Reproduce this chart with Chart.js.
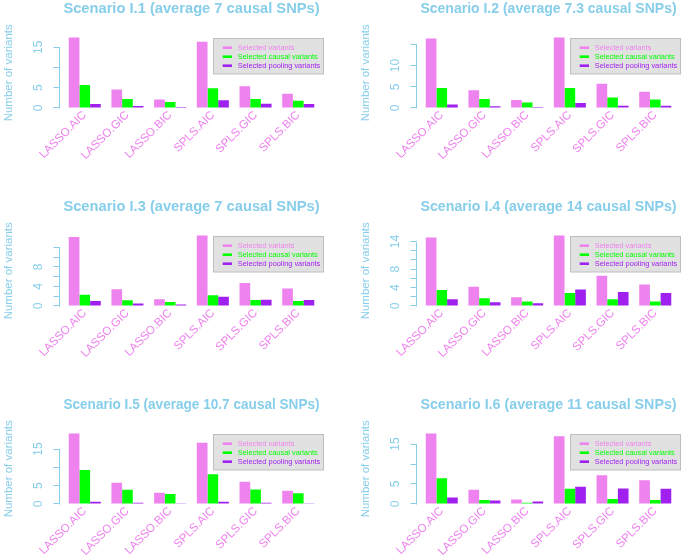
<!DOCTYPE html>
<html><head><meta charset="utf-8">
<script src="https://cdn.jsdelivr.net/npm/chart.js@4.4.1/dist/chart.umd.min.js"></script>
<style>
html,body{margin:0;padding:0;background:#fff;}
#wrap{position:relative;width:689px;height:555px;overflow:hidden;background:#fff;}
.p{position:absolute;width:357px;height:198px;}
</style></head><body><div id="wrap"></div>
<script>
// ---------- data ----------
const categories = ['LASSO.AIC','LASSO.GIC','LASSO.BIC','SPLS.AIC','SPLS.GIC','SPLS.BIC'];
const seriesNames = ['Selected variants','Selected causal variants','Selected pooling variants'];
const panelTitles = [
  'Scenario I.1 (average 7 causal SNPs)',
  'Scenario I.2 (average 7.3 causal SNPs)',
  'Scenario I.3 (average 7 causal SNPs)',
  'Scenario I.4 (average 14 causal SNPs)',
  'Scenario I.5 (average 10.7 causal SNPs)',
  'Scenario I.6 (average 11 causal SNPs)'
];
const yAxisTitle = 'Number of variants';

const selectedI1 = [17.4, 4.6, 2.1, 16.4, 5.4, 3.5];
const causalI1   = [5.7, 2.2, 1.5, 4.9, 2.2, 1.8];
const poolingI1  = [1.0, 0.5, 0.25, 1.9, 1.05, 1.0];

const selectedI2 = [16.4, 4.2, 1.9, 16.6, 5.7, 3.85];
const causalI2   = [4.7, 2.1, 1.3, 4.7, 2.5, 2.0];
const poolingI2  = [0.8, 0.4, 0.25, 1.2, 0.55, 0.55];

const selectedI3 = [14.1, 3.4, 1.4, 14.4, 4.7, 3.6];
const causalI3   = [2.3, 1.15, 0.8, 2.2, 1.2, 1.0];
const poolingI3  = [1.0, 0.5, 0.3, 1.9, 1.3, 1.2];

const selectedI4 = [14.9, 4.2, 1.9, 15.3, 6.55, 4.65];
const causalI4   = [3.5, 1.7, 1.0, 2.8, 1.45, 1.0];
const poolingI4  = [1.45, 0.8, 0.6, 3.6, 3.05, 2.8];

const selectedI5 = [19.2, 5.8, 3.05, 16.7, 6.05, 3.6];
const causalI5   = [9.3, 3.9, 2.7, 8.1, 3.95, 2.9];
const poolingI5  = [0.6, 0.35, 0.2, 0.6, 0.35, 0.2];

const selectedI6 = [17.6, 3.55, 1.15, 16.95, 7.2, 5.95];
const causalI6   = [6.45, 1.0, 0.3, 3.8, 1.25, 1.0];
const poolingI6  = [1.65, 0.9, 0.6, 4.3, 3.9, 3.8];

const yTicksA = [0, 5, 10, 15];
const yTicksB = [0, 2, 4, 6, 8, 10, 12];
const yTicksC = [0, 2, 4, 6, 8, 10, 12, 14];
const yLabelsI1 = ['0', '5', '', '15'];
const yLabelsI2 = ['0', '5', '10', ''];
const yLabelsI3 = ['0', '', '4', '', '8', '', ''];
const yLabelsI4 = ['0', '', '4', '', '8', '', '', '14'];
const yLabelsI5 = ['0', '5', '', '15'];
const yLabelsI6 = ['0', '5', '', '15'];

// ---------- style ----------
const FAM = '"Liberation Sans", Arial, Helvetica, sans-serif';
const SKY = '#87CEEB';
const COLORS = ['#EE82EE', '#00FF00', '#A020F0'];
const PW = 357, PH = 198;

const measureCtx = document.createElement('canvas').getContext('2d');
function widest(labels, size) {
  measureCtx.font = size + 'px ' + FAM;
  let w = 0; labels.forEach(l => { w = Math.max(w, measureCtx.measureText(l).width); });
  return w;
}

const rPlugin = {
  id: 'rStyle',
  afterLayout(chart) {
    const s = chart.scales.y;
    const d = s.right - 59.5;
    s.left -= d; s.right -= d;
    s._labelItemsCache = null; s._gridLineItems = null;
  },
  afterDraw(chart) {
    const ctx = chart.ctx;
    const s = chart.scales.y;
    const t = chart.options.plugins.rStyle.ticks;
    ctx.save();
    ctx.strokeStyle = SKY; ctx.lineWidth = 1;
    ctx.beginPath();
    ctx.moveTo(s.right, Math.round(s.getPixelForValue(t[0])) + 0.5);
    ctx.lineTo(s.right, Math.round(s.getPixelForValue(t[t.length - 1])) + 0.5);
    ctx.stroke();
    const bx = 213.5, by = 38.5, bw = 110, bh = 35.5;
    ctx.fillStyle = '#E1E1E1';
    ctx.fillRect(bx, by, bw, bh);
    ctx.strokeStyle = '#BEBEBE'; ctx.lineWidth = 1;
    ctx.strokeRect(bx, by, bw, bh);
    const rows = [47.7, 56.7, 65.7];
    ctx.font = '7.4px ' + FAM;
    ctx.textBaseline = 'middle'; ctx.textAlign = 'left';
    chart.data.datasets.forEach((ds, i) => {
      ctx.strokeStyle = COLORS[i]; ctx.lineWidth = 2.6;
      ctx.beginPath(); ctx.moveTo(222.7, rows[i]); ctx.lineTo(232, rows[i]); ctx.stroke();
      ctx.fillStyle = COLORS[i];
      ctx.fillText(ds.label, 237.7, rows[i] + 0.3);
    });
    ctx.restore();
  }
};

const wrap = document.getElementById('wrap');
function makePanel(col, row, title, sel, cau, pool, ticks, labels) {
  const div = document.createElement('div');
  div.className = 'p';
  div.style.left = (col * PW) + 'px';
  div.style.top = (row * PH) + 'px';
  const cv = document.createElement('canvas');
  cv.width = PW; cv.height = PH;
  cv.style.width = PW + 'px'; cv.style.height = PH + 'px';
  div.appendChild(cv); wrap.appendChild(div);
  const M = Math.max(...sel, ...cau, ...pool);
  const w = widest(labels, 12);
  const pad = 20.7 - 6 - w / 2;
  new Chart(cv, {
    type: 'bar',
    data: {
      labels: categories,
      datasets: [
        { label: seriesNames[0], data: sel, backgroundColor: COLORS[0] },
        { label: seriesNames[1], data: cau, backgroundColor: COLORS[1] },
        { label: seriesNames[2], data: pool, backgroundColor: COLORS[2] }
      ]
    },
    options: {
      responsive: false, animation: false, devicePixelRatio: 1,
      layout: { padding: { left: 0, right: PW - 319.6, top: 0, bottom: 0 } },
      datasets: { bar: { categoryPercentage: 0.75, barPercentage: 1, borderWidth: 0 } },
      plugins: {
        legend: { display: false },
        tooltip: { enabled: false },
        rStyle: { ticks: ticks },
        title: {
          display: true, text: title, fullSize: false, color: SKY,
          font: { family: FAM, size: 15, weight: 'bold', lineHeight: 1.2 },
          padding: { top: 0, bottom: 16.8 }
        }
      },
      scales: {
        x: {
          grid: { display: false, drawTicks: false },
          border: { display: false },
          ticks: { color: COLORS[0], font: { family: FAM, size: 11.6 }, minRotation: 45, maxRotation: 45, padding: -2.4, autoSkip: false },
          afterFit: s => { s.height = PH - 110.8; }
        },
        y: {
          min: -0.04 * M, max: 1.04 * M,
          grid: { drawOnChartArea: false, drawTicks: true, tickLength: 6, color: SKY, lineWidth: 1 },
          border: { display: false },
          afterBuildTicks: s => { s.ticks = ticks.map(v => ({ value: v })); },
          ticks: {
            color: SKY, font: { family: FAM, size: 12 }, minRotation: 90, maxRotation: 90,
            crossAlign: 'center', padding: pad, autoSkip: false,
            callback: function (v, i) { return labels[i]; }
          },
          title: { display: true, text: yAxisTitle, color: SKY, font: { family: FAM, size: 11.5, lineHeight: 1.2 }, padding: { top: 5.5, bottom: 0 } },
          afterFit: s => { s.width = 63.4; }
        }
      }
    },
    plugins: [rPlugin]
  });
}

makePanel(0, 0, panelTitles[0], selectedI1, causalI1, poolingI1, yTicksA, yLabelsI1);
makePanel(1, 0, panelTitles[1], selectedI2, causalI2, poolingI2, yTicksA, yLabelsI2);
makePanel(0, 1, panelTitles[2], selectedI3, causalI3, poolingI3, yTicksB, yLabelsI3);
makePanel(1, 1, panelTitles[3], selectedI4, causalI4, poolingI4, yTicksC, yLabelsI4);
makePanel(0, 2, panelTitles[4], selectedI5, causalI5, poolingI5, yTicksA, yLabelsI5);
makePanel(1, 2, panelTitles[5], selectedI6, causalI6, poolingI6, yTicksA, yLabelsI6);
</script>
</body></html>
